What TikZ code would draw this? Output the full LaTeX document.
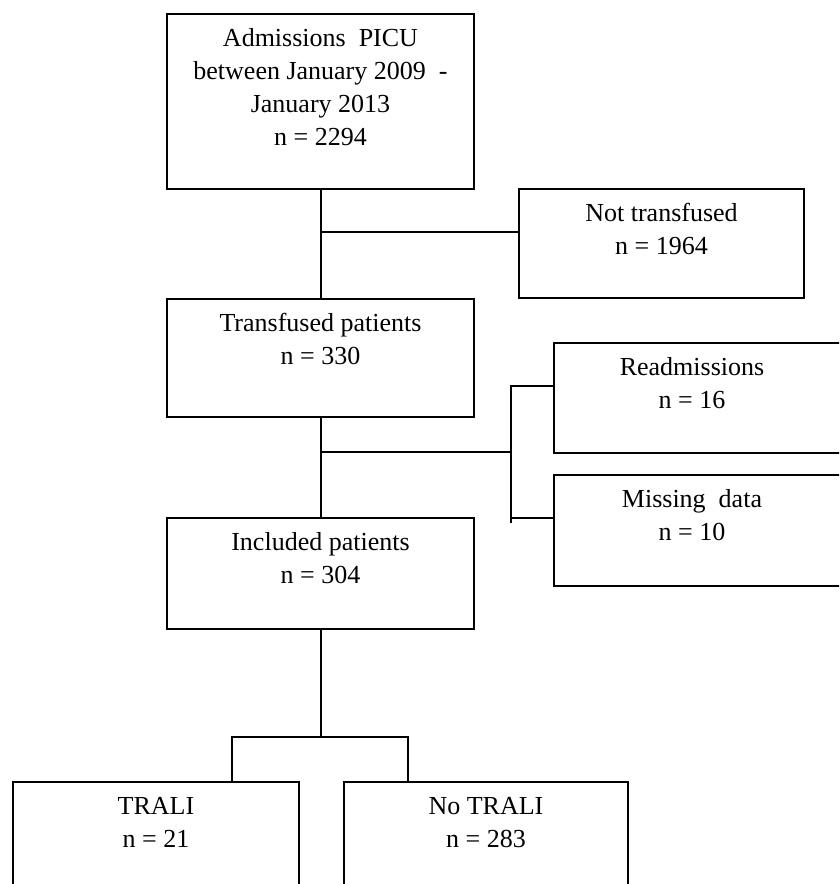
\documentclass[tikz,border=0pt]{standalone}
\usepackage{fontspec}
\setmainfont{Liberation Serif}
\newcommand{\flowtext}[4][0pt]{\parbox[c][#3][t]{#2}{\centering\rule{0pt}{32pt}#4}\hspace*{#1}}
\begin{document}
\begin{tikzpicture}[
    x=1pt,
    y=-1pt,
    every node/.style={font=\fontsize{26pt}{33pt}\selectfont},
    flowbox/.style={draw, line width=2pt, inner sep=0pt, anchor=north west},
    link/.style={line width=2pt}
  ]
  \useasboundingbox (0,0) rectangle (839,884);
  \clip (0,0) rectangle (839,884);

  % Main column
  \node[flowbox] (adm) at (166,13)
    {\flowtext{307pt}{175pt}{Admissions~ PICU\\ between January 2009~ -\\ January 2013\\ n = 2294}};
  \node[flowbox] (trans) at (166,298)
    {\flowtext{307pt}{118pt}{Transfused patients\\ n = 330}};
  \node[flowbox] (incl) at (166,517)
    {\flowtext{307pt}{111pt}{Included patients\\ n = 304}};

  % Exclusions
  \node[flowbox] (nottr) at (518,188)
    {\flowtext{285pt}{109pt}{Not transfused\\ n = 1964}};
  \node[flowbox] (readm) at (553,342)
    {\flowtext[24pt]{276pt}{110pt}{Readmissions\\ n = 16}};
  \node[flowbox] (miss) at (553,474)
    {\flowtext[24pt]{276pt}{111pt}{Missing~ data\\ n = 10}};

  % Outcome
  \node[flowbox] (trali) at (12,781)
    {\flowtext{286pt}{130pt}{TRALI\\ n = 21}};
  \node[flowbox] (notrali) at (343,781)
    {\flowtext{284pt}{130pt}{No TRALI\\ n = 283}};

  % Connectors
  \coordinate (admsplit) at (adm.south |- 0,232);
  \draw[link] (adm.south) -- (trans.north);
  \draw[link] (admsplit) -- (admsplit -| nottr.west);

  \coordinate (transsplit) at (trans.south |- 0,452);
  \coordinate (excltop) at (511,386);
  \coordinate (exclmid) at (511,518);
  \coordinate (exclbot) at (511,523);
  \draw[link] (trans.south) -- (incl.north);
  \draw[link] (transsplit) -- (transsplit -| excltop);
  \draw[link] (excltop -| readm.west) -- (excltop) -- (exclbot);
  \draw[link] (exclmid) -- (exclmid -| miss.west);

  \coordinate (inclsplit) at (incl.south |- 0,737);
  \coordinate (splitL) at (232,737);
  \coordinate (splitR) at (408,737);
  \draw[link] (incl.south) -- (inclsplit);
  \draw[link] (splitL |- trali.north) -- (splitL) -- (splitR) -- (splitR |- notrali.north);
\end{tikzpicture}
\end{document}
